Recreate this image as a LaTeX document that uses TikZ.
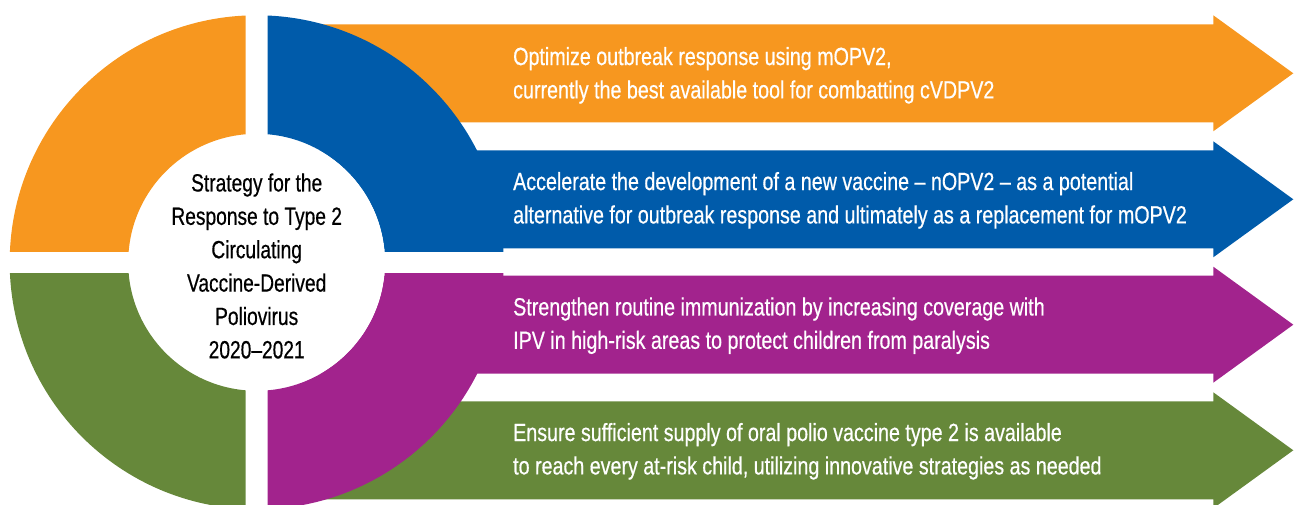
\documentclass[tikz,border=0pt]{standalone}
\usepackage{fontspec}
\setmainfont{Liberation Sans}[FakeStretch=0.79,FakeBold=0.5]
\newfontfamily\centerfont{Liberation Sans}[FakeStretch=0.77,FakeBold=0.5]
\definecolor{cOr}{HTML}{F7971F}
\definecolor{cBl}{HTML}{005BAA}
\definecolor{cPu}{HTML}{A2238D}
\definecolor{cGr}{HTML}{66883A}
\begin{document}
\begin{tikzpicture}[x=1bp,y=1bp,
  arrowtext/.style={anchor=west, align=left, text=white, font=\fontsize{25}{33.5}\selectfont, inner sep=0pt},
  centertext/.style={align=center, text=black, font=\centerfont\fontsize{25}{33.5}\selectfont, inner sep=0pt}]
\useasboundingbox (0,0) rectangle (1295,505);
\def\cx{256.7}
\def\cy{242.7}
% arrows
\foreach \col/\yc in {cOr/431.7, cBl/305.7, cPu/180.3, cGr/54.7}{
  \fill[\col] (300,\yc+49) -- (1213.3,\yc+49) -- (1213.3,\yc+58) -- (1293.3,\yc)
     -- (1213.3,\yc-58) -- (1213.3,\yc-49) -- (300,\yc-49) -- cycle;
}
% white hub
\fill[white] (\cx,\cy) circle (128.5);
% ring quadrants
\begin{scope}
  \clip (\cx-300,\cy+11) rectangle (\cx-11,\cy+300);
  \fill[cOr,even odd rule] (\cx,\cy) circle (247) (\cx,\cy) circle (128.5);
\end{scope}
\begin{scope}
  \clip (\cx+11,\cy+11) rectangle (\cx+300,\cy+300);
  \fill[cBl,even odd rule] (\cx,\cy) circle (247) (\cx,\cy) circle (128.5);
\end{scope}
\begin{scope}
  \clip (\cx+11,\cy-11) rectangle (\cx+300,\cy-300);
  \fill[cPu,even odd rule] (\cx,\cy) circle (247) (\cx,\cy) circle (128.5);
\end{scope}
\begin{scope}
  \clip (\cx-300,\cy-11) rectangle (\cx-11,\cy-300);
  \fill[cGr,even odd rule] (\cx,\cy) circle (247) (\cx,\cy) circle (128.5);
\end{scope}
% texts
\node[centertext] (center) at (\cx,239) {Strategy for the\\Response to Type 2\\Circulating\\Vaccine-Derived\\Poliovirus\\2020–2021};
\node[arrowtext] (t1) at (513,429.7) {Optimize outbreak response using mOPV2,\\currently the best available tool for combatting cVDPV2};
\node[arrowtext] (t2) at (513,304.7) {Accelerate the development of a new vaccine – nOPV2 – as a potential\\alternative for outbreak response and ultimately as a replacement for mOPV2};
\node[arrowtext] (t3) at (513,179.3) {Strengthen routine immunization by increasing coverage with\\IPV in high-risk areas to protect children from paralysis};
\node[arrowtext] (t4) at (513,53.7) {Ensure sufficient supply of oral polio vaccine type 2 is available\\to reach every at-risk child, utilizing innovative strategies as needed};
\end{tikzpicture}
\end{document}
